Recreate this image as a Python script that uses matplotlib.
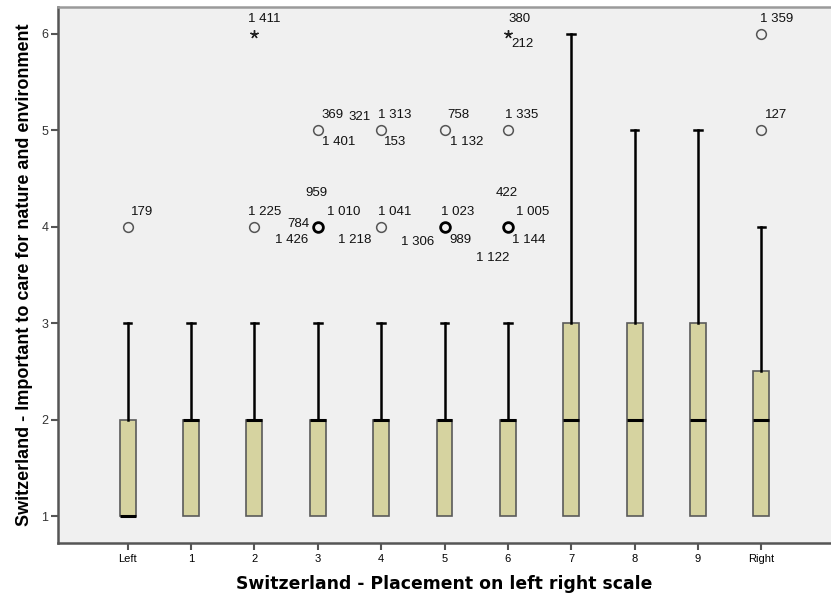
import matplotlib
matplotlib.use("Agg")
import matplotlib.pyplot as plt

plt.rcParams['font.family'] = ['Liberation Sans', 'DejaVu Sans']

categories = ["Left", "1", "2", "3", "4", "5", "6", "7", "8", "9", "Right"]
q1 = [1, 1, 1, 1, 1, 1, 1, 1, 1, 1, 1]
median = [1, 2, 2, 2, 2, 2, 2, 2, 2, 2, 2]
q3 = [2, 2, 2, 2, 2, 2, 2, 3, 3, 3, 2.5]
whislo = [1, 1, 1, 1, 1, 1, 1, 1, 1, 1, 1]
whishi = [3, 3, 3, 3, 3, 3, 3, 6, 5, 5, 4]

# outliers: category index, value, kind, bold
out_cat = [0, 2, 2, 3, 3, 4, 4, 5, 5, 6, 6, 6, 10, 10]
out_val = [4, 4, 6, 5, 4, 5, 4, 5, 4, 6, 5, 4, 6, 5]
out_kind = ["o", "o", "*", "o", "o", "o", "o", "o", "o", "*", "o", "o", "o", "o"]
out_bold = [False, False, False, False, True, False, False, False, True, False, False, True, False, False]

# case labels attached to outliers
lab_out = [0, 1, 2, 3, 3, 4, 4, 4, 4, 5, 5, 5, 6, 6, 7, 7, 8, 8, 8, 9, 9, 10, 11, 11, 11, 11, 12, 13]
lab_text = ["179", "1 225", "1 411", "369", "1 401", "959", "1 010", "784", "1 426",
            "321", "1 313", "153", "1 041", "1 218", "758", "1 132", "1 023", "1 306", "989",
            "380", "212", "1 335", "422", "1 005", "1 144", "1 122", "1 359", "127"]
# label offsets in pixels relative to marker
lab_off = [(3, 15), (-6, 15), (-6, 15), (4, 15), (4, -12), (-12, 34), (9, 15), (-30, 3), (-43, -13),
           (-33, 13), (-3, 15), (3, -12), (-3, 15), (-43, -13), (3, 15), (5, -12), (-4, 15), (-44, -15), (5, -13),
           (1, 15), (3, -10), (-3, 15), (-12, 34), (8, 15), (4, -13), (-32, -31), (-1, 15), (4, 15)]

W, H = 831, 599
fig = plt.figure(figsize=(W / 100, H / 100), dpi=100)
fig.patch.set_facecolor("white")
ax = fig.add_axes([58 / W, 56 / H, (W - 58) / W, (543 - 7) / H])
ax.set_facecolor("#F0F0F0")

positions = list(range(len(categories)))
stats = []
for i in positions:
    stats.append(dict(med=median[i], q1=q1[i], q3=q3[i], whislo=whislo[i], whishi=whishi[i], fliers=[]))

res = ax.bxp(stats, positions=positions, widths=0.25, patch_artist=True, showfliers=False,
             boxprops=dict(facecolor="#D6D3A0", edgecolor="#5A5A5A", linewidth=1.2),
             medianprops=dict(color="black", linewidth=2.2),
             whiskerprops=dict(color="black", linewidth=1.8),
             capprops=dict(color="black", linewidth=1.8),
             capwidths=0.12, zorder=3)
# SPSS draws no cap where the whisker has zero length
for i, cap in enumerate(res["caps"]):
    if i % 2 == 0:
        cap.set_visible(False)

for c, v, k, b in zip(out_cat, out_val, out_kind, out_bold):
    if k == "o":
        ax.plot(c, v, marker="o", markersize=7, markerfacecolor="none",
                markeredgecolor="black" if b else "#555555", markeredgewidth=2.0 if b else 1.1, zorder=4)
    else:
        ax.plot(c, v, marker=(5, 2, 0), markersize=6, color="#222222", markeredgewidth=1.0, zorder=4)

for oi, t, (dx, dy) in zip(lab_out, lab_text, lab_off):
    ax.annotate(t, xy=(out_cat[oi], out_val[oi]), xytext=(dx, dy), textcoords="offset pixels",
                ha="left", va="center", fontsize=9.5, color="#111111")

ax.set_xlim(-1.1, 11.1)
ax.set_ylim(0.72, 6.28)
ax.set_xticks(positions)
ax.set_xticklabels(categories, fontsize=8)
ax.set_yticks([1, 2, 3, 4, 5, 6])
ax.set_yticklabels(["1", "2", "3", "4", "5", "6"], fontsize=9, color="#333333")
ax.tick_params(axis="both", direction="out", length=5, width=1.5, color="#555555")
ax.tick_params(axis="x", pad=3)
ax.tick_params(axis="y", pad=2)

for s in ["left", "bottom"]:
    ax.spines[s].set_color("#555555")
    ax.spines[s].set_linewidth(1.8)
ax.spines["top"].set_color("#9A9A9A")
ax.spines["top"].set_linewidth(1.8)
ax.spines["right"].set_visible(False)

ax.set_xlabel("Switzerland - Placement on left right scale", fontsize=12.4, fontweight="bold",
              family=["DejaVu Sans"], labelpad=8)
ax.set_ylabel("Switzerland - Important to care for nature and environment", fontsize=13, fontweight="bold",
              labelpad=6)

fig.savefig("out.png", dpi=100)
